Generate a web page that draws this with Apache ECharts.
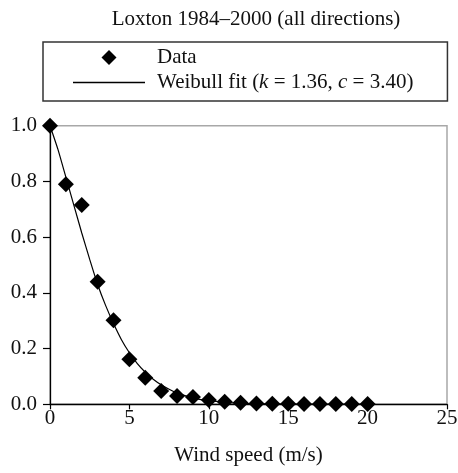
<!DOCTYPE html>
<html>
<head>
<meta charset="utf-8">
<script src="https://cdn.jsdelivr.net/npm/echarts@6/dist/echarts.min.js"></script>
<style>
  html, body { margin: 0; padding: 0; background: #fff; }
  #chart { width: 458px; height: 473px; }
</style>
</head>
<body>
<div id="chart"></div>
<script>
// Observed exceedance probability by wind speed bin
const windSpeed = [0, 1, 2, 3, 4, 5, 6, 7, 8, 9, 10, 11, 12, 13, 14, 15, 16, 17, 18, 19, 20];
const exceedance = [1.0, 0.79, 0.715, 0.44, 0.302, 0.162, 0.095, 0.048, 0.03, 0.026, 0.015,
                    0.009, 0.006, 0.003, 0.002, 0.002, 0.001, 0.001, 0.001, 0.001, 0.001];

// Weibull fit curve (k = 1.36, c = 3.40), sampled values
const fitSpeed = [0, 0.5, 1, 1.5, 2, 2.5, 3, 3.5, 4, 4.5, 5, 5.5, 6, 6.5, 7, 7.5, 8, 8.5, 9,
                  9.5, 10, 11, 12, 13, 14, 16, 18, 20];
const fitValue = [1.0, 0.915, 0.815, 0.715, 0.615, 0.52, 0.43, 0.355, 0.29, 0.232, 0.185, 0.146,
                  0.115, 0.09, 0.07, 0.054, 0.041, 0.031, 0.023, 0.017, 0.013, 0.007, 0.004,
                  0.002, 0.001, 0.0, 0.0, 0.0];

const xTicks = { min: 0, max: 25, interval: 5 };
const yTicks = { min: 0, max: 1, interval: 0.2 };

const serif = '"Liberation Serif", "DejaVu Serif", serif';
const fs = 21;

const chart = echarts.init(document.getElementById('chart'), null, { renderer: 'canvas' });

chart.setOption({
  backgroundColor: '#fff',
  animation: false,
  title: {
    text: 'Loxton 1984–2000 (all directions)',
    left: 251,
    textAlign: 'center',
    top: 4,
    textStyle: { fontFamily: serif, fontSize: fs, fontWeight: 'normal', color: '#111' }
  },
  legend: {
    left: 43,
    top: 42,
    orient: 'vertical',
    borderColor: '#333',
    borderWidth: 1.5,
    borderRadius: 0,
    padding: [5, 34, 8, 30],
    itemWidth: 72,
    itemHeight: 15,
    itemGap: 4,
    symbolKeepAspect: true,
    itemStyle: { borderWidth: 0 },
    textStyle: {
      fontFamily: serif, fontSize: fs, color: '#111', lineHeight: 21,
      padding: [0, 0, 0, 7],
      rich: {
        it: { fontFamily: serif, fontSize: fs, fontStyle: 'italic', color: '#111', lineHeight: 21 },
        n: { fontFamily: serif, fontSize: fs, color: '#111', lineHeight: 21 }
      }
    },
    formatter: function (name) {
      if (name === 'Weibull') {
        return '{n|Weibull fit (}{it|k}{n| = 1.36, }{it|c}{n| = 3.40)}';
      }
      return name;
    },
    data: [
      { name: 'Data', icon: 'path://M0,-1 L1,0 L0,1 L-1,0 Z' },
      { name: 'Weibull', icon: 'path://M0,0 H72 V1.3 H0 Z' }
    ]
  },
  grid: {
    left: 50, right: 11, top: 125.7, bottom: 68.7,
    containLabel: false,
    outerBoundsMode: 'none',
    show: true,
    borderColor: '#a8a8a8',
    borderWidth: 1.5,
    backgroundColor: 'transparent'
  },
  xAxis: {
    type: 'value',
    min: xTicks.min, max: xTicks.max, interval: xTicks.interval,
    name: 'Wind speed (m/s)',
    nameLocation: 'middle',
    nameGap: 41,
    nameTextStyle: { fontFamily: serif, fontSize: fs, color: '#111' },
    axisLine: { onZero: false, lineStyle: { color: '#000', width: 1.3 } },
    axisTick: { show: true, inside: false, length: 5, lineStyle: { color: '#000', width: 1.2 } },
    axisLabel: { fontFamily: serif, fontSize: fs, color: '#111', margin: 4 },
    splitLine: { show: false }
  },
  yAxis: {
    type: 'value',
    min: yTicks.min, max: yTicks.max, interval: yTicks.interval,
    axisLine: { show: true, onZero: false, lineStyle: { color: '#000', width: 1.3 } },
    axisTick: { show: true, inside: false, length: 7, lineStyle: { color: '#000', width: 1.2 } },
    axisLabel: {
      fontFamily: serif, fontSize: fs, color: '#111', margin: 13,
      formatter: function (v) { return v.toFixed(1); }
    },
    splitLine: { show: false }
  },
  series: [
    {
      name: 'Weibull',
      type: 'line',
      data: fitSpeed.map((x, i) => [x, fitValue[i]]),
      symbol: 'none',
      smooth: 0.2,
      lineStyle: { color: '#000', width: 1.2 },
      itemStyle: { color: '#000' },
      z: 2
    },
    {
      name: 'Data',
      type: 'scatter',
      data: windSpeed.map((x, i) => [x, exceedance[i]]),
      symbol: 'diamond',
      symbolSize: 16,
      itemStyle: { color: '#000', opacity: 1 },
      z: 3
    }
  ]
});
</script>
</body>
</html>
